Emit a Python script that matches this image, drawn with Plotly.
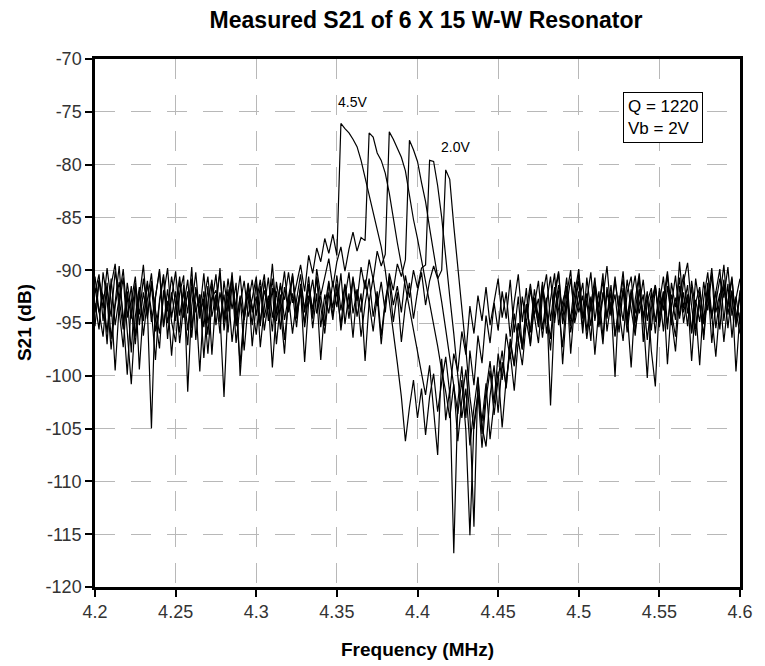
import plotly.graph_objects as go

# Frequency sweep (MHz)
FREQ = [
    4.2, 4.2025, 4.205, 4.2075, 4.21, 4.2125, 4.215, 4.2175, 4.22, 4.2225,
    4.225, 4.2275, 4.23, 4.2325, 4.235, 4.2375, 4.24, 4.2425, 4.245, 4.2475,
    4.25, 4.2525, 4.255, 4.2575, 4.26, 4.2625, 4.265, 4.2675, 4.27, 4.2725,
    4.275, 4.2775, 4.28, 4.2825, 4.285, 4.2875, 4.29, 4.2925, 4.295, 4.2975,
    4.3, 4.3025, 4.305, 4.3075, 4.31, 4.3125, 4.315, 4.3175, 4.32, 4.3225,
    4.325, 4.3275, 4.33, 4.3325, 4.335, 4.3375, 4.34, 4.3425, 4.345, 4.3475,
    4.35, 4.3525, 4.355, 4.3575, 4.36, 4.3625, 4.365, 4.3675, 4.37, 4.3725,
    4.375, 4.3775, 4.38, 4.3825, 4.385, 4.3875, 4.39, 4.3925, 4.395, 4.3975,
    4.4, 4.4025, 4.405, 4.4075, 4.41, 4.4125, 4.415, 4.4175, 4.42, 4.4225,
    4.425, 4.4275, 4.43, 4.4325, 4.435, 4.4375, 4.44, 4.4425, 4.445, 4.4475,
    4.45, 4.4525, 4.455, 4.4575, 4.46, 4.4625, 4.465, 4.4675, 4.47, 4.4725,
    4.475, 4.4775, 4.48, 4.4825, 4.485, 4.4875, 4.49, 4.4925, 4.495, 4.4975,
    4.5, 4.5025, 4.505, 4.5075, 4.51, 4.5125, 4.515, 4.5175, 4.52, 4.5225,
    4.525, 4.5275, 4.53, 4.5325, 4.535, 4.5375, 4.54, 4.5425, 4.545, 4.5475,
    4.55, 4.5525, 4.555, 4.5575, 4.56, 4.5625, 4.565, 4.5675, 4.57, 4.5725,
    4.575, 4.5775, 4.58, 4.5825, 4.585, 4.5875, 4.59, 4.5925, 4.595, 4.5975,
    4.6,
]

# S21 (dB) for each bias voltage
S21_4V5 = [
    -92.1, -90.4, -94.8, -91.2, -96.5, -93.0, -89.6, -95.1, -92.4, -97.8,
    -91.5, -94.2, -90.8, -93.7, -105.0, -92.6, -89.9, -95.4, -91.8, -94.9,
    -96.8, -92.2, -90.5, -101.5, -93.4, -90.2, -94.6, -92.0, -96.1, -91.3,
    -93.8, -89.8, -95.7, -92.5, -90.9, -96.9, -93.2, -91.0, -94.4, -92.7,
    -90.6, -95.0, -91.9, -93.6, -89.4, -94.1, -91.5, -92.8, -90.2, -93.1,
    -91.4, -89.5, -92.0, -88.6, -90.3, -87.9, -89.2, -87.0, -88.4, -86.6,
    -88.6, -76.1, -76.6, -77.0, -77.6, -78.3, -79.6, -81.2, -82.9, -84.4,
    -86.0, -87.8, -90.0, -92.8, -95.6, -98.8, -102.0, -106.2, -103.0, -100.4,
    -104.0, -101.2, -105.6, -102.0, -99.8, -103.4, -100.6, -98.2, -101.7, -97.9,
    -99.6, -95.8, -98.0, -93.4, -96.0, -92.4, -94.8, -91.6, -95.2, -92.9,
    -90.8, -94.5, -92.1, -96.3, -93.0, -90.4, -94.9, -91.7, -97.2, -93.3,
    -91.0, -95.6, -92.6, -102.8, -94.0, -91.4, -93.9, -90.7, -95.3, -92.2,
    -89.9, -94.6, -92.9, -96.7, -91.2, -93.5, -90.3, -95.8, -93.0, -100.1,
    -92.4, -94.8, -90.9, -93.7, -96.2, -91.8, -94.3, -92.0, -97.6, -101.0,
    -93.1, -90.6, -95.1, -92.3, -94.7, -89.2, -93.6, -91.4, -96.0, -92.8,
    -94.9, -91.1, -93.8, -90.4, -95.5, -92.6, -89.5, -94.2, -91.9, -99.6,
    -94.0,
]
S21_4V0 = [
    -95.3, -91.0, -93.6, -89.8, -92.9, -99.5, -93.3, -90.7, -95.8, -100.8,
    -94.4, -91.6, -96.2, -92.8, -90.3, -94.7, -97.4, -91.9, -93.9, -90.6,
    -93.2, -95.9, -91.4, -94.1, -89.7, -96.6, -92.3, -98.3, -93.0, -90.9,
    -95.2, -92.1, -94.5, -90.8, -93.7, -91.2, -100.0, -94.6, -91.5, -93.4,
    -96.1, -92.5, -90.4, -94.8, -91.7, -97.0, -93.0, -90.1, -94.0, -92.2,
    -95.4, -91.3, -93.7, -90.6, -94.6, -89.9, -92.4, -90.8, -88.9, -91.6,
    -89.2, -87.8, -90.1, -88.0, -86.4, -88.2, -86.9, -87.2, -77.0, -77.4,
    -78.9, -79.6, -80.8, -82.7, -85.2, -87.4, -89.5, -91.5, -93.6, -95.8,
    -97.8, -99.6, -101.8, -99.0, -103.5, -107.5, -98.4, -104.2, -101.3, -116.8,
    -102.5, -99.1, -104.0, -97.6, -100.9, -96.2, -98.8, -94.3, -96.9, -93.1,
    -95.7, -92.0, -94.6, -90.9, -95.9, -92.5, -97.5, -93.8, -91.3, -94.2,
    -92.7, -96.4, -93.1, -90.6, -95.0, -91.9, -98.9, -93.4, -90.8, -94.5,
    -92.0, -96.0, -90.7, -93.9, -91.5, -95.4, -92.6, -89.6, -94.1, -92.3,
    -95.9, -91.7, -94.0, -99.2, -92.8, -90.3, -94.9, -92.5, -95.7, -91.6,
    -94.4, -92.0, -98.9, -93.3, -90.5, -94.6, -92.1, -95.3, -91.0, -93.8,
    -99.0, -92.7, -90.2, -94.3, -92.0, -95.6, -91.4, -93.5, -90.8, -94.9,
    -92.5,
]
S21_3V5 = [
    -90.6, -93.9, -96.3, -91.8, -94.4, -90.1, -92.7, -95.6, -91.2, -93.7,
    -97.0, -92.6, -89.5, -94.3, -91.4, -95.8, -93.1, -90.6, -96.5, -92.1,
    -94.8, -91.1, -93.5, -97.1, -90.8, -94.0, -92.3, -95.4, -91.5, -98.0,
    -92.6, -90.3, -94.9, -91.8, -96.8, -93.3, -90.5, -94.7, -92.2, -95.2,
    -91.0, -97.3, -93.5, -90.7, -94.5, -92.0, -95.6, -91.6, -93.9, -90.3,
    -94.2, -91.7, -98.7, -93.0, -90.9, -94.1, -92.4, -95.3, -91.2, -93.6,
    -90.5, -93.8, -91.3, -94.6, -90.8, -92.9, -89.7, -91.8, -89.0, -90.9,
    -88.2, -89.6, -88.5, -76.9, -77.6, -78.4, -79.3, -80.6, -83.0, -85.2,
    -87.0, -89.0, -91.0, -93.0, -95.0, -97.2, -99.5, -101.5, -104.0, -100.8,
    -106.2, -102.3, -99.4, -103.8, -114.3, -100.2, -105.5, -101.4, -98.6, -102.6,
    -97.9, -100.4, -96.0, -98.4, -94.1, -96.8, -92.5, -95.1, -91.8, -94.5,
    -96.9, -92.4, -90.4, -94.8, -91.6, -93.7, -97.3, -92.3, -90.0, -95.0,
    -93.0, -91.2, -95.8, -92.5, -98.0, -93.6, -91.0, -94.6, -92.1, -96.2,
    -93.5, -90.8, -95.2, -92.2, -94.1, -90.6, -96.8, -93.0, -91.7, -94.9,
    -92.0, -95.8, -91.5, -94.5, -97.7, -92.6, -90.4, -94.1, -91.6, -95.6,
    -92.8, -96.6, -91.9, -94.3, -98.2, -93.4, -90.9, -95.5, -92.0, -93.9,
    -96.0,
]
S21_3V0 = [
    -94.0, -90.9, -92.5, -95.9, -91.4, -89.4, -93.8, -97.3, -92.0, -94.6,
    -91.2, -99.4, -93.6, -91.0, -94.9, -92.3, -90.1, -95.3, -92.9, -98.1,
    -93.3, -90.6, -94.5, -92.0, -96.4, -91.6, -93.9, -90.3, -95.0, -92.6,
    -91.9, -94.2, -102.0, -93.4, -90.6, -95.3, -92.4, -97.6, -93.2, -90.9,
    -94.3, -91.5, -95.7, -92.9, -99.2, -93.8, -91.2, -94.7, -92.5, -96.0,
    -92.8, -90.4, -94.0, -91.3, -95.5, -92.2, -98.5, -93.5, -91.0, -94.3,
    -92.0, -95.2, -91.4, -93.7, -90.6, -94.4, -92.2, -98.6, -93.0, -90.7,
    -93.4, -91.1, -94.0, -90.3, -91.9, -89.4, -90.6, -89.0, -77.7, -78.6,
    -79.7, -81.7, -83.5, -86.0, -88.3, -90.5, -93.0, -95.6, -98.2, -101.0,
    -103.6, -100.4, -105.2, -115.1, -104.5, -101.6, -106.8, -102.2, -99.5, -103.7,
    -100.3, -97.6, -101.2, -96.5, -99.0, -95.0, -97.4, -93.2, -95.9, -91.8,
    -94.6, -91.1, -96.0, -92.8, -90.3, -95.2, -93.0, -91.5, -97.9, -93.1,
    -90.4, -94.5, -92.2, -95.3, -91.7, -93.6, -97.0, -92.0, -94.3, -91.0,
    -93.8, -96.7, -92.1, -90.6, -95.0, -91.9, -94.4, -100.2, -93.7, -91.4,
    -95.4, -92.6, -90.1, -93.9, -96.3, -91.5, -94.0, -92.3, -95.9, -90.8,
    -93.3, -96.1, -91.8, -94.6, -92.1, -89.9, -94.8, -91.3, -96.4, -92.7,
    -90.8,
]
S21_2V5 = [
    -93.1, -95.6, -90.2, -92.8, -97.5, -93.4, -91.1, -94.3, -99.9, -93.0,
    -90.6, -95.2, -92.1, -94.6, -91.0, -93.8, -96.0, -92.4, -89.8, -94.5,
    -92.0, -96.9, -93.4, -90.9, -95.5, -91.8, -94.2, -92.7, -97.9, -93.0,
    -90.4, -94.9, -92.3, -95.9, -91.3, -93.5, -98.9, -93.9, -91.2, -94.0,
    -92.5, -95.3, -91.0, -93.7, -90.8, -94.8, -92.3, -96.6, -92.9, -90.6,
    -93.9, -91.7, -95.4, -92.4, -94.2, -90.6, -93.5, -96.0, -92.1, -94.7,
    -91.3, -95.7, -92.6, -90.2, -94.1, -91.9, -96.3, -93.2, -90.8, -94.4,
    -92.0, -96.2, -92.9, -90.6, -93.3, -91.5, -94.0, -90.5, -92.6, -90.0,
    -91.7, -89.8, -89.5, -79.6, -79.7, -82.0, -85.0, -89.0, -92.5, -96.0,
    -100.0, -104.0, -101.2, -106.6, -103.0, -100.1, -104.8, -106.7, -101.9, -99.0,
    -103.5, -98.7, -101.0, -96.8, -99.1, -95.0, -97.5, -93.3, -95.8, -92.6,
    -95.1, -91.4, -93.7, -96.5, -92.0, -90.1, -94.7, -91.6, -95.9, -93.2,
    -91.0, -95.4, -92.7, -90.2, -94.8, -92.0, -96.4, -91.6, -93.9, -90.6,
    -94.2, -91.9, -95.9, -92.7, -90.5, -94.1, -92.3, -96.6, -93.0, -91.4,
    -94.9, -92.1, -95.6, -91.2, -93.5, -90.7, -95.0, -92.5, -98.6, -93.1,
    -91.6, -95.1, -92.7, -89.8, -94.0, -92.2, -96.8, -93.0, -90.6, -95.4,
    -91.9,
]
S21_2V0 = [
    -91.7, -94.0, -92.3, -97.0, -90.8, -95.2, -92.6, -89.9, -94.5, -91.5,
    -96.3, -92.0, -94.8, -91.3, -93.9, -98.5, -92.8, -90.4, -95.0, -92.5,
    -90.1, -94.3, -92.0, -95.7, -91.6, -93.2, -99.6, -92.9, -90.6, -94.4,
    -92.3, -96.0, -91.0, -93.9, -90.2, -95.1, -92.6, -94.7, -91.3, -97.2,
    -93.1, -90.9, -94.5, -92.4, -95.8, -91.1, -93.6, -97.9, -92.5, -90.5,
    -94.6, -92.0, -95.0, -91.5, -93.7, -90.7, -95.4, -92.3, -94.1, -91.0,
    -93.5, -90.3, -95.1, -92.2, -96.4, -91.8, -94.0, -90.9, -93.1, -95.8,
    -92.4, -97.0, -93.0, -91.0, -94.9, -92.1, -96.8, -93.3, -91.2, -94.6,
    -92.0, -90.2, -93.3, -91.0, -89.6, -90.8, -90.0, -80.5, -81.4, -85.8,
    -89.6, -93.5, -97.5, -102.0, -105.0, -101.8, -104.3, -100.7, -106.0, -102.5,
    -99.6, -104.9, -100.3, -97.8, -101.4, -96.6, -99.0, -94.8, -97.0, -92.9,
    -95.4, -91.9, -94.1, -97.6, -92.5, -90.3, -95.1, -92.9, -94.6, -91.1,
    -94.0, -92.4, -96.5, -93.3, -90.7, -95.0, -92.1, -94.4, -91.4, -96.3,
    -92.9, -90.1, -94.6, -91.8, -95.7, -93.2, -90.9, -94.8, -92.1, -96.0,
    -91.7, -93.8, -90.4, -95.2, -92.6, -94.3, -91.1, -89.3, -93.5, -96.2,
    -92.0, -94.7, -91.2, -96.9, -93.1, -90.8, -92.6, -89.7, -94.3, -92.5,
    -95.1,
]

SERIES = [S21_4V5, S21_4V0, S21_3V5, S21_3V0, S21_2V5, S21_2V0]
SERIES_NAMES = ["4.5V", "4.0V", "3.5V", "3.0V", "2.5V", "2.0V"]

X_TICKS = [4.2, 4.25, 4.3, 4.35, 4.4, 4.45, 4.5, 4.55, 4.6]
X_TICK_LABELS = ["4.2", "4.25", "4.3", "4.35", "4.4", "4.45", "4.5", "4.55", "4.6"]
Y_TICKS = [-70, -75, -80, -85, -90, -95, -100, -105, -110, -115, -120]
Y_TICK_LABELS = ["-70", "-75", "-80", "-85", "-90", "-95", "-100", "-105", "-110", "-115", "-120"]

FONT = "Liberation Sans, Arial, sans-serif"

# The page body has an 8px default margin, so the figure is sized to fit
FIG_W, FIG_H = 757, 658

fig = go.Figure()
for name, ys in zip(SERIES_NAMES, SERIES):
    fig.add_trace(go.Scatter(x=FREQ, y=ys, mode="lines", name=name,
                             line=dict(color="black", width=1.2)))

grid = dict(showgrid=True, gridcolor="#b8b8b8", gridwidth=1, griddash="20px,16px",
            showline=True, linecolor="black", linewidth=2.5, mirror=True,
            ticks="outside", ticklen=7, tickwidth=2, tickcolor="black",
            tickfont=dict(family=FONT, size=18, color="#333333"), zeroline=False)

fig.update_layout(
    width=FIG_W, height=FIG_H,
    margin=dict(l=87, r=15, t=51, b=79),
    paper_bgcolor="white", plot_bgcolor="white",
    showlegend=False,
    title=dict(text="<b>Measured S21 of 6 X 15 W-W Resonator</b>",
               x=(426 - 8) / FIG_W, xanchor="center", y=1 - 12 / FIG_H, yanchor="middle",
               font=dict(family=FONT, size=23, color="black")),
    xaxis=dict(range=[4.2, 4.6], tickvals=X_TICKS, ticktext=X_TICK_LABELS, **grid),
    yaxis=dict(range=[-120, -70], tickvals=Y_TICKS, ticktext=Y_TICK_LABELS, **grid),
)

fig.add_annotation(text="<b>Frequency (MHz)</b>", xref="paper", yref="paper",
                   x=0.5, y=(587 - 649) / 528, xanchor="center", yanchor="middle",
                   showarrow=False, font=dict(family=FONT, size=19, color="black"))
fig.add_annotation(text="<b>S21 (dB)</b>", xref="paper", yref="paper",
                   x=(23 - 95) / 655, y=0.5, xanchor="center", yanchor="middle",
                   textangle=-90, showarrow=False,
                   font=dict(family=FONT, size=19, color="black"))

fig.add_annotation(text="4.5V", x=4.3597, y=-74.07, xref="x", yref="y",
                   showarrow=False, font=dict(family=FONT, size=14, color="black"))
fig.add_annotation(text="2.0V", x=4.4238, y=-78.33, xref="x", yref="y",
                   showarrow=False, font=dict(family=FONT, size=14, color="black"))
fig.add_annotation(text="Q = 1220<br>Vb = 2V", x=4.5274, y=-73.1, xref="x", yref="y",
                   xanchor="left", yanchor="top", align="left", showarrow=False,
                   bordercolor="black", borderwidth=1, borderpad=4, bgcolor="white",
                   font=dict(family=FONT, size=17, color="black"))

fig.write_html("out.html")
